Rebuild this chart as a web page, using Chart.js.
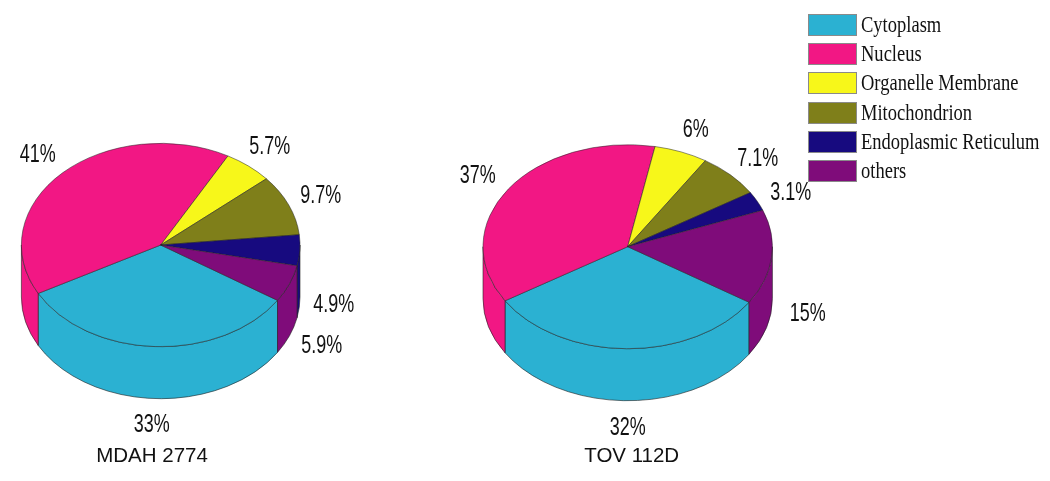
<!DOCTYPE html>
<html><head><meta charset="utf-8">
<style>
html,body{margin:0;padding:0;background:#fff;width:1050px;height:481px;overflow:hidden}
canvas{position:absolute;top:0}
#legend{position:absolute;left:0;top:0}
.sw{position:absolute;left:808px;width:47px;height:20px;border:1px solid #8a8a8a;box-sizing:content-box}
.lb{position:absolute;left:861px;font:22.5px "Liberation Serif",serif;color:#111;transform:scaleX(.823);transform-origin:left center;white-space:nowrap;line-height:26px}
</style>
<script src="https://cdn.jsdelivr.net/npm/chart.js@4"></script>
</head><body>
<canvas id="a" width="400" height="481" style="left:0;width:400px;height:481px"></canvas>
<canvas id="b" width="650" height="481" style="left:400px;width:650px;height:481px"></canvas>
<div id="legend"></div>
<script>
const categories = ["Cytoplasm","Nucleus","Organelle Membrane","Mitochondrion","Endoplasmic Reticulum","others"];
const mdah2774 = [33,41,5.7,9.7,4.9,5.9];
const tov112d = [32,37,6,7.1,3.1,15];
const colors = ["#2BB1D2","#F21784","#F7F71A","#7F7F1A","#170A7F","#7F0C7A"];
const mdahLabelOffsets = [[-9,180],[-123,-90],[109,-98],[160,-49],[173,60],[161,101]];
const tovLabelOffsets = [[0,181],[-150,-71],[68,-117],[130,-88],[163,-54],[180,67]];

const pie3d = {
  id:'pie3d',
  beforeDatasetsDraw(chart,args,o){
    const ctx=chart.ctx, arcs=chart.getDatasetMeta(0).data, k=o.squash, d=o.depth;
    const TAU=Math.PI*2;
    arcs.forEach((el,i)=>{
      const s=el.startAngle,e=el.endAngle,r=el.outerRadius,cx=el.x,cy=el.y;
      [0,TAU,-TAU].forEach(shift=>{
        const a=Math.max(s,shift),b=Math.min(e,shift+Math.PI);
        if(b<=a) return;
        ctx.beginPath();
        ctx.ellipse(cx,cy,r,r*k,0,a,b,false);
        ctx.ellipse(cx,cy+d,r,r*k,0,b,a,true);
        ctx.closePath();
        ctx.fillStyle=colors[i];ctx.fill();
        ctx.strokeStyle='#222';ctx.lineWidth=.6;ctx.stroke();
      });
    });
    const c=arcs[0];
    ctx.save();
    ctx.translate(c.x,c.y);ctx.scale(1,k);ctx.translate(-c.x,-c.y);
  },
  afterDatasetsDraw(chart,args,o){
    const ctx=chart.ctx;
    ctx.restore();
    const c=chart.getDatasetMeta(0).data[0], vals=chart.data.datasets[0].data;
    ctx.fillStyle='#111';ctx.textAlign='center';ctx.textBaseline='middle';
    vals.forEach((v,i)=>{
      ctx.save();
      ctx.translate(c.x+o.offsets[i][0],c.y+o.offsets[i][1]);
      ctx.scale(.69,1);
      ctx.font='26px "Liberation Sans"';
      ctx.fillText(v+'%',0,0);
      ctx.restore();
    });
    ctx.font='20.5px "Liberation Sans"';
    ctx.textBaseline='alphabetic';
    ctx.fillText(o.name,o.nameX,462);
  }
};
function makePie(id,name,values,offsets,radius,squash,padding,nameX){
  return new Chart(document.getElementById(id),{
    type:'pie',
    data:{labels:categories,datasets:[{data:values,backgroundColor:colors,borderColor:'#222',borderWidth:.6,radius:radius,rotation:123,hoverOffset:0,clip:false}]},
    options:{responsive:false,animation:false,events:[],layout:{padding},
      plugins:{legend:{display:false},tooltip:{enabled:false},pie3d:{squash,depth:52,offsets,name,nameX}}},
    plugins:[pie3d]
  });
}
makePie('a','MDAH 2774',mdah2774,mdahLabelOffsets,139.3,.73,{left:0,right:78.6,top:9,bottom:0},152);
makePie('b','TOV 112D',tov112d,tovLabelOffsets,144.7,.705,{left:0,right:194.6,top:12.4,bottom:0},231.7);
const legendTops=[14,43,72,102,131,160];
const lg=document.getElementById('legend');
categories.forEach((c,i)=>{
  const s=document.createElement('div');s.className='sw';s.style.top=legendTops[i]+'px';s.style.background=colors[i];lg.appendChild(s);
  const t=document.createElement('div');t.className='lb';t.style.top=(legendTops[i]-2)+'px';t.textContent=c;lg.appendChild(t);
});
</script>
</body></html>
